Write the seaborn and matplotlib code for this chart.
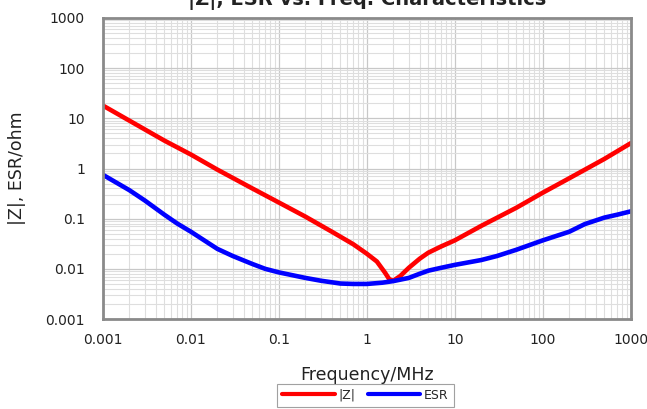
import numpy as np
import pandas as pd
import seaborn as sns
import matplotlib.pyplot as plt
from matplotlib.ticker import LogLocator, FixedLocator, NullFormatter

# values (MHz, ohm)
z_freq = [0.001, 0.002, 0.005, 0.01, 0.02, 0.05, 0.1, 0.2, 0.4, 0.7, 1.0, 1.3,
          1.6, 1.8, 2.0, 2.4, 3.0, 4.0, 5.0, 7.0, 10, 20, 50, 100, 200, 500, 1000]
z_vals = [18, 9.0, 3.6, 1.9, 0.95, 0.40, 0.21, 0.11, 0.055, 0.031, 0.020, 0.014,
          0.0085, 0.0062, 0.0058, 0.0072, 0.0105, 0.016, 0.021, 0.028, 0.037,
          0.072, 0.165, 0.33, 0.64, 1.55, 3.2]

esr_freq = [0.001, 0.002, 0.003, 0.005, 0.007, 0.01, 0.02, 0.03, 0.05, 0.07, 0.1,
            0.2, 0.3, 0.5, 0.7, 1.0, 1.5, 2.0, 3.0, 4.0, 5.0, 7.0, 10, 20, 30, 50,
            100, 200, 300, 500, 700, 1000]
esr_vals = [0.75, 0.37, 0.23, 0.12, 0.08, 0.055, 0.025, 0.018, 0.0125, 0.0100,
            0.0085, 0.0066, 0.0058, 0.0051, 0.0050, 0.0050, 0.0053, 0.0057,
            0.0066, 0.0080, 0.0092, 0.0105, 0.012, 0.015, 0.018, 0.024, 0.037,
            0.055, 0.078, 0.105, 0.12, 0.14]

df = pd.concat([
    pd.DataFrame({"freq": z_freq, "val": z_vals, "series": "|Z|"}),
    pd.DataFrame({"freq": esr_freq, "val": esr_vals, "series": "ESR"}),
])

sns.set_style("white")
plt.rcParams["font.family"] = ["DejaVu Sans"]

fig = plt.figure(figsize=(6.47, 4.09), dpi=100)
ax = fig.add_axes([0.159, 0.22, 0.816, 0.736])

sns.lineplot(data=df, x="freq", y="val", hue="series", palette=["#ff0000", "#0000ff"],
             linewidth=3.3, ax=ax, legend=False, sort=False, estimator=None)

ax.set_xscale("log")
ax.set_yscale("log")
ax.set_xlim(0.001, 1000)
ax.set_ylim(0.001, 1000)

ticks = [0.001, 0.01, 0.1, 1, 10, 100, 1000]
labels = ["0.001", "0.01", "0.1", "1", "10", "100", "1000"]
ax.xaxis.set_major_locator(FixedLocator(ticks))
ax.yaxis.set_major_locator(FixedLocator(ticks))
ax.set_xticklabels(labels)
ax.set_yticklabels(labels)
ax.xaxis.set_minor_locator(LogLocator(base=10, subs=np.arange(2, 10), numticks=20))
ax.yaxis.set_minor_locator(LogLocator(base=10, subs=np.arange(2, 10), numticks=20))
ax.xaxis.set_minor_formatter(NullFormatter())
ax.yaxis.set_minor_formatter(NullFormatter())

ax.grid(which="major", color="#c8c8c8", linewidth=0.9)
ax.grid(which="minor", color="#dedede", linewidth=0.8)
ax.set_axisbelow(True)
ax.tick_params(which="both", length=0, labelsize=10, colors="#222222")
ax.tick_params(axis="x", pad=10)
ax.tick_params(axis="y", pad=13)
for s in ax.spines.values():
    s.set_color("#8a8a8a")
    s.set_linewidth(2)

ax.set_xlabel("Frequency/MHz", fontsize=12.5, labelpad=14, color="#222222")
ax.set_ylabel("|Z|, ESR/ohm", fontsize=12.5, labelpad=14, color="#222222")

fig.text(0.567, 0.988, "|Z|, ESR vs. Freq. Characteristics", ha="center", va="baseline",
         fontsize=14, fontweight="bold", color="#222222")

handles = [plt.Line2D([], [], color="#ff0000", lw=3), plt.Line2D([], [], color="#0000ff", lw=3)]
leg = fig.legend(handles, ["|Z|", "ESR"], loc="upper center", bbox_to_anchor=(0.565, 0.077),
                 ncol=2, fontsize=9, frameon=True, fancybox=False, handlelength=4.2,
                 columnspacing=1.0, handletextpad=0.3, borderpad=0.4)
leg.get_frame().set_edgecolor("#8a8a8a")
leg.get_frame().set_linewidth(0.8)

fig.savefig("out.png", dpi=100)
